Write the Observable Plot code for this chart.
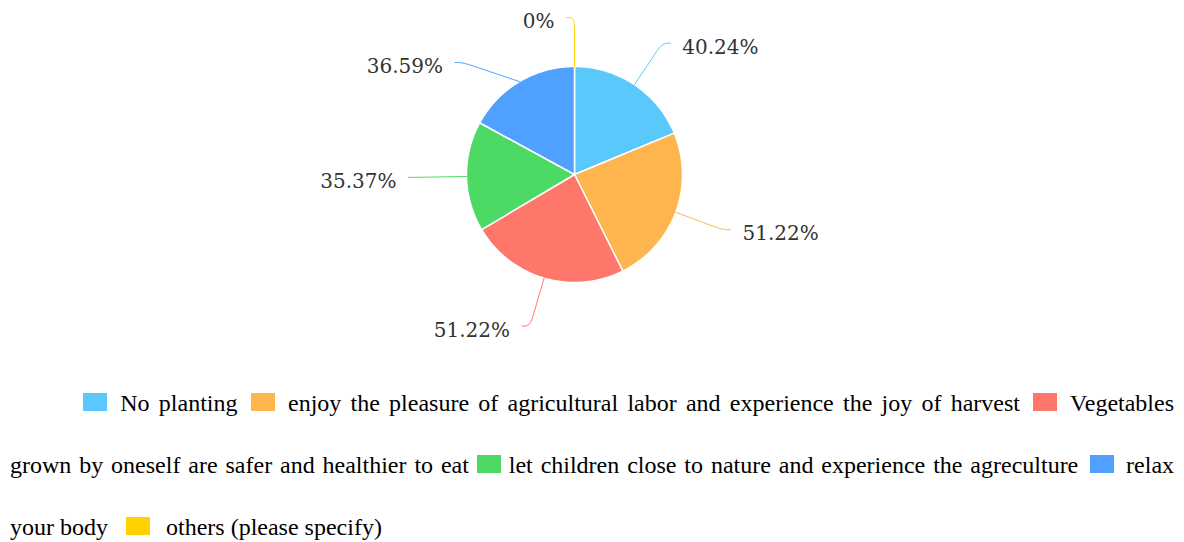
<!DOCTYPE html>
<html><head><meta charset="utf-8">
<script src="https://cdn.jsdelivr.net/npm/d3@7"></script>
<script src="https://cdn.jsdelivr.net/npm/@observablehq/plot@0.6"></script>
<style>
body{margin:0;background:#fff;width:1184px;overflow:hidden}
#chart svg{display:block}
.legend{font-family:"Liberation Serif","Times New Roman",serif;font-size:24px;color:#000;padding:0 10px;}
.row{height:62px;line-height:62px;}
.just{text-align:justify;text-align-last:justify;}
.sw{display:inline-block;width:24px;height:18px;vertical-align:middle;position:relative;top:-3px}
</style></head><body>
<div id="chart"></div>
<div class="legend" id="legend"></div>
<script>
const categories = [
  "No planting",
  "enjoy the pleasure of agricultural labor and experience the joy of harvest",
  "Vegetables grown by oneself are safer and healthier to eat",
  "let children close to nature and experience the agreculture",
  "relax your body",
  "others (please specify)"
];
const values = [40.24, 51.22, 51.22, 35.37, 36.59, 0];
const valueLabels = ["40.24%", "51.22%", "51.22%", "35.37%", "36.59%", "0%"];
const colors = ["#5AC8FA", "#FFB54D", "#FF766A", "#4CD964", "#4FA0FF", "#FFD200"];

// legend rows as they wrap in the reference (numbers = swatch of category index)
const legendRows = [
  [0, "No planting", 1, "enjoy the pleasure of agricultural labor and experience the joy of harvest", 2, "Vegetables"],
  ["grown by oneself are safer and healthier to eat", 3, "let children close to nature and experience the agreculture", 4, "relax"],
  ["your body", 5, "others (please specify)"]
];

const W = 1184, H = 372, R = 108, CX = 574, CY = 174;
const L1 = 158 / R, L2 = 8 / R, GAP = 12 / R, TOP = (CY - 17) / R, MINSEP = 45 / R;

const pie = d3.pie().sort(null).value(d => d.value).startAngle(0).endAngle(2 * Math.PI);
const arcs = pie(categories.map((c, i) => ({cat: c, value: values[i], label: valueLabels[i]})));

const pt = (a, r) => [r * Math.sin(a), r * Math.cos(a)];

const wedgePts = [];
arcs.forEach(a => {
  if (a.endAngle - a.startAngle <= 0) return;
  wedgePts.push({cat: a.data.cat, x: 0, y: 0});
  const n = Math.max(2, Math.ceil((a.endAngle - a.startAngle) / (Math.PI / 180)));
  for (let k = 0; k <= n; k++) {
    const t = a.startAngle + (a.endAngle - a.startAngle) * k / n;
    const [x, y] = pt(t, 1);
    wedgePts.push({cat: a.data.cat, x, y});
  }
  wedgePts.push({cat: a.data.cat, x: 0, y: 0});
});

// label layout (with simple overlap avoidance per side)
const items = arcs.map(a => {
  let mid = (a.startAngle + a.endAngle) / 2;
  if (a.endAngle - a.startAngle <= 0 && a.startAngle >= Math.PI) mid = 2 * Math.PI - 1e-6;
  const side = Math.sin(mid) >= 0 ? 1 : -1;
  const [x0, y0] = pt(mid, 1);
  const [x1, y1] = pt(mid, L1);
  return {a, mid, side, x0, y0, x1, y1};
});
[1, -1].forEach(side => {
  const s = items.filter(d => d.side === side).sort((p, q) => q.y1 - p.y1);
  let prev = null;
  s.forEach(d => {
    if (d.y1 > TOP) d.y1 = TOP;
    if (prev && d.y1 > prev.y1 - MINSEP) {
      d.y1 = prev.y1 - MINSEP;
      const dy = Math.abs(d.y1);
      if (dy < L1) d.x1 = side * Math.sqrt(L1 * L1 - dy * dy);
    }
    prev = d;
  });
});

const leaderPts = [];
const labelPts = [];
items.forEach(d => {
  const {x0, y0, x1, y1, side} = d;
  const xa = x0 + (x1 - x0) * 0.75, ya = y0 + (y1 - y0) * 0.75;
  const x2 = x1 + side * L2;
  [[x0, y0], [xa, ya], [x1, y1], [x2, y1]].forEach(([x, y]) => leaderPts.push({cat: d.a.data.cat, x, y}));
  labelPts.push({cat: d.a.data.cat, x: x2 + side * GAP, y: y1 - 4 / R, label: d.a.data.label, side});
});

const chart = Plot.plot({
  width: W, height: H,
  margin: 0,
  x: {domain: [-CX / R, (W - CX) / R], axis: null},
  y: {domain: [-(H - CY) / R, CY / R], axis: null},
  color: {domain: categories, range: colors},
  style: {background: "#fff", overflow: "visible"},
  marks: [
    Plot.line(wedgePts, {x: "x", y: "y", z: "cat", fill: "cat", stroke: "#fff", strokeWidth: 1.5, curve: "linear"}),
    Plot.line(leaderPts, {x: "x", y: "y", z: "cat", stroke: "cat", strokeWidth: 1, curve: "basis"}),
    Plot.text(labelPts.filter(d => d.side > 0), {x: "x", y: "y", text: "label", textAnchor: "start", fill: "#333", fontSize: 20, fontFamily: "DejaVu Serif"}),
    Plot.text(labelPts.filter(d => d.side < 0), {x: "x", y: "y", text: "label", textAnchor: "end", fill: "#333", fontSize: 20, fontFamily: "DejaVu Serif"})
  ]
});
document.getElementById("chart").appendChild(chart);

const leg = document.getElementById("legend");
legendRows.forEach((row, ri) => {
  const div = document.createElement("div");
  const justified = ri < legendRows.length - 1;
  div.className = "row" + (justified ? " just" : "");
  if (ri === 0) div.style.textIndent = "73px";
  row.forEach((item, k) => {
    if (typeof item === "number") {
      const s = document.createElement("span");
      s.className = "sw";
      s.style.background = colors[item];
      s.style.textIndent = "0";
      const tight = ri === 1 && item === 3;
      s.style.marginLeft = (tight || k === 0) ? "0px" : (justified ? "4px" : "12px");
      s.style.marginRight = tight ? "0px" : (justified ? "4px" : "10px");
      if (k > 0) div.appendChild(document.createTextNode(" "));
      div.appendChild(s);
      div.appendChild(document.createTextNode(" "));
    } else {
      div.appendChild(document.createTextNode(item));
    }
  });
  leg.appendChild(div);
});
</script>
</body></html>
